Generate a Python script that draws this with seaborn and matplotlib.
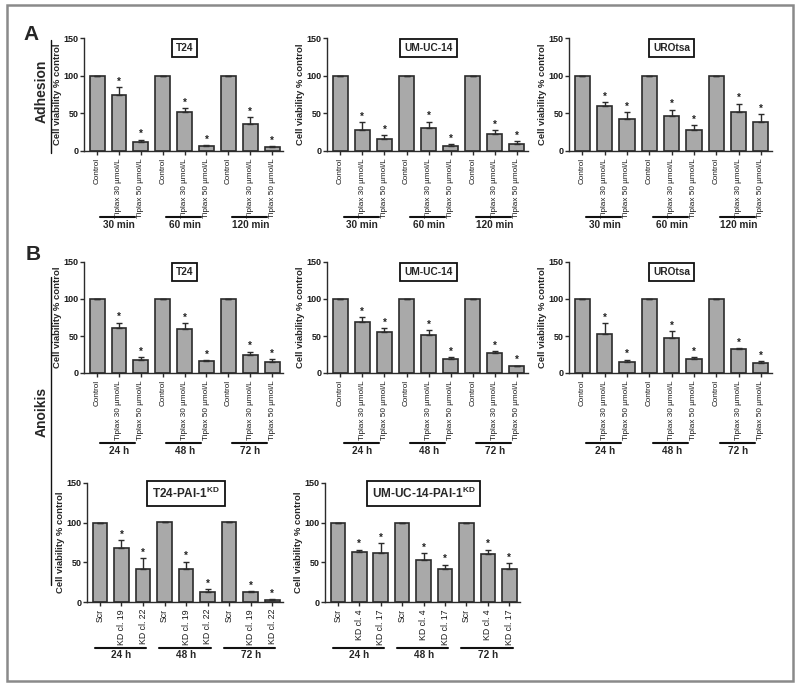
import pandas as pd
import matplotlib.pyplot as plt
import seaborn as sns
from matplotlib.lines import Line2D
from matplotlib.patches import Rectangle

# --- Data ---
treat = ["Control", "Tiplax 30 \u00b5mol/L", "Tiplax 50 \u00b5mol/L"]
kd_t24 = ["Scr", "KD cl. 19", "KD cl. 22"]
kd_um = ["Scr", "KD cl. 4", "KD cl. 17"]
times_min = ["30 min", "60 min", "120 min"]
times_h = ["24 h", "48 h", "72 h"]

adh_t24 = [100, 74, 12, 100, 52, 6, 100, 36, 5]
adh_t24_err = [0, 11, 3, 0, 5, 2, 0, 9, 2]
adh_um = [100, 28, 16, 100, 31, 7, 100, 22, 9]
adh_um_err = [0, 10, 5, 0, 8, 2, 0, 6, 4]
adh_uro = [100, 60, 42, 100, 46, 28, 100, 52, 38]
adh_uro_err = [0, 5, 10, 0, 9, 6, 0, 11, 11]

ano_t24 = [100, 61, 18, 100, 60, 16, 100, 24, 15]
ano_t24_err = [0, 7, 4, 0, 7, 1, 0, 5, 4]
ano_um = [100, 69, 56, 100, 52, 19, 100, 27, 9]
ano_um_err = [0, 6, 5, 0, 6, 2, 0, 3, 1]
ano_uro = [100, 53, 15, 100, 47, 19, 100, 33, 14]
ano_uro_err = [0, 14, 3, 0, 10, 3, 0, 1, 2]

kd_t24_vals = [100, 68, 42, 101, 42, 12, 101, 12, 3]
kd_t24_err = [0, 10, 13, 0, 9, 4, 0, 2, 1]
kd_um_vals = [100, 63, 62, 100, 53, 42, 100, 60, 41]
kd_um_err = [0, 3, 12, 0, 9, 5, 0, 6, 8]

# --- Style ---
sns.set_style("ticks")
plt.rcParams['font.family'] = ['Liberation Sans', 'DejaVu Sans']
BAR = "#a9a9a9"
EDGE = "#2b2b2b"
W, H = 800, 687

fig = plt.figure(figsize=(8, 6.87), dpi=100)


def px_axes(l, t, r, b):
    return fig.add_axes([l / W, 1 - b / H, (r - l) / W, (b - t) / H])


def panel(box, title, vals, errs, labels, groups, line_px, line_span,
          title_size=7.3, xfont=5.9):
    l, t, r, b = box
    ax = px_axes(l, t, r, b)
    names = [f"{g}|{lab}" for g in groups for lab in labels]
    df = pd.DataFrame({"bar": names, "value": vals})
    sns.barplot(data=df, x="bar", y="value", order=names, color=BAR,
                edgecolor=EDGE, linewidth=1.2, width=0.68, errorbar=None,
                saturation=1, ax=ax)
    pos = list(range(len(vals)))
    ax.errorbar(pos, vals, yerr=[[0] * len(errs), errs], fmt="none",
                ecolor=EDGE, elinewidth=1, capsize=2.5, capthick=1)
    for i, (v, e) in enumerate(zip(vals, errs)):
        if i % 3:
            ax.text(i, v + e + 0.5, "*", ha="center", va="bottom",
                    fontsize=7, fontweight="bold", color="#222")
    ax.set_ylim(0, 150)
    ax.set_yticks([0, 50, 100, 150])
    ax.set_xlim(-0.6, 8.5)
    ax.set_xticks(pos)
    ax.set_xticklabels(labels * 3, rotation=90, fontsize=xfont)
    ax.tick_params(axis="y", labelsize=6.5, length=3, width=1, pad=1, colors=EDGE)
    ax.tick_params(axis="x", length=3, width=1, pad=2, colors=EDGE)
    for lab in ax.get_xticklabels() + ax.get_yticklabels():
        lab.set_color("#1a1a1a")
    for lab in ax.get_yticklabels():
        lab.set_fontweight("bold")
    ax.set_xlabel("")
    ax.set_ylabel("Cell viability % control", fontsize=6.8, fontweight="bold",
                  labelpad=1)
    for s in ("left", "bottom"):
        ax.spines[s].set_linewidth(1)
        ax.spines[s].set_color(EDGE)
    sns.despine(ax=ax)
    ax.text(4, 137, title, ha="center", va="center", fontsize=title_size,
            fontweight="bold",
            bbox=dict(boxstyle="square,pad=0.4", fc="white", ec="#111", lw=1.3))
    # group underlines and labels
    hpx = b - t
    yl = -line_px / hpx
    tr = ax.get_xaxis_transform()
    for k, g in enumerate(groups):
        x0 = 3 * k + line_span[0]
        x1 = 3 * k + line_span[1]
        ax.plot([x0, x1], [yl, yl], color="#111", lw=1.5, transform=tr,
                clip_on=False)
        ax.text(3 * k + 1, yl - 2.5 / hpx, g, ha="center", va="top",
                transform=tr, fontsize=7.2, fontweight="bold")
    return ax


tip_span = (0.15, 1.75)
kd_span = (-0.25, 2.15)

# Panel A (Adhesion)
panel((84, 38, 283, 151), "T24", adh_t24, adh_t24_err, treat, times_min, 66, tip_span)
panel((327, 38, 528, 151), "UM-UC-14", adh_um, adh_um_err, treat, times_min, 66, tip_span)
panel((569, 38, 772, 151), "UROtsa", adh_uro, adh_uro_err, treat, times_min, 66, tip_span)

# Panel B (Anoikis) row 1
panel((84, 262, 283, 373), "T24", ano_t24, ano_t24_err, treat, times_h, 70, tip_span)
panel((327, 262, 528, 373), "UM-UC-14", ano_um, ano_um_err, treat, times_h, 70, tip_span)
panel((569, 262, 772, 373), "UROtsa", ano_uro, ano_uro_err, treat, times_h, 70, tip_span)

# Panel B row 2 (knock-down clones)
panel((87, 483, 283, 602), "T24-PAI-1$^{\\mathregular{KD}}$", kd_t24_vals, kd_t24_err,
      kd_t24, times_h, 46, kd_span, title_size=8.5, xfont=6.3)
panel((325, 483, 520, 602), "UM-UC-14-PAI-1$^{\\mathregular{KD}}$", kd_um_vals, kd_um_err,
      kd_um, times_h, 46, kd_span, title_size=8.5, xfont=6.3)

# --- Figure-level annotations ---
def fx(x):
    return x / W


def fy(y):
    return 1 - y / H


fig.text(fx(31), fy(35), "A", fontsize=15, fontweight="bold", ha="center", va="center")
fig.text(fx(33), fy(255), "B", fontsize=15, fontweight="bold", ha="center", va="center")
fig.text(fx(42), fy(91), "Adhesion", rotation=90, fontsize=10, fontweight="bold",
         ha="center", va="center")
fig.text(fx(42), fy(412), "Anoikis", rotation=90, fontsize=10, fontweight="bold",
         ha="center", va="center")
fig.add_artist(Line2D([fx(51), fx(51)], [fy(40), fy(153)], color="#111", lw=1))
fig.add_artist(Line2D([fx(51), fx(51)], [fy(277), fy(585)], color="#111", lw=1))
fig.add_artist(Rectangle((fx(7), fy(681)), (786) / W, (676) / H, fill=False,
                         ec="#8a8a8a", lw=1.8, transform=fig.transFigure))

plt.savefig("out.png", dpi=100)
